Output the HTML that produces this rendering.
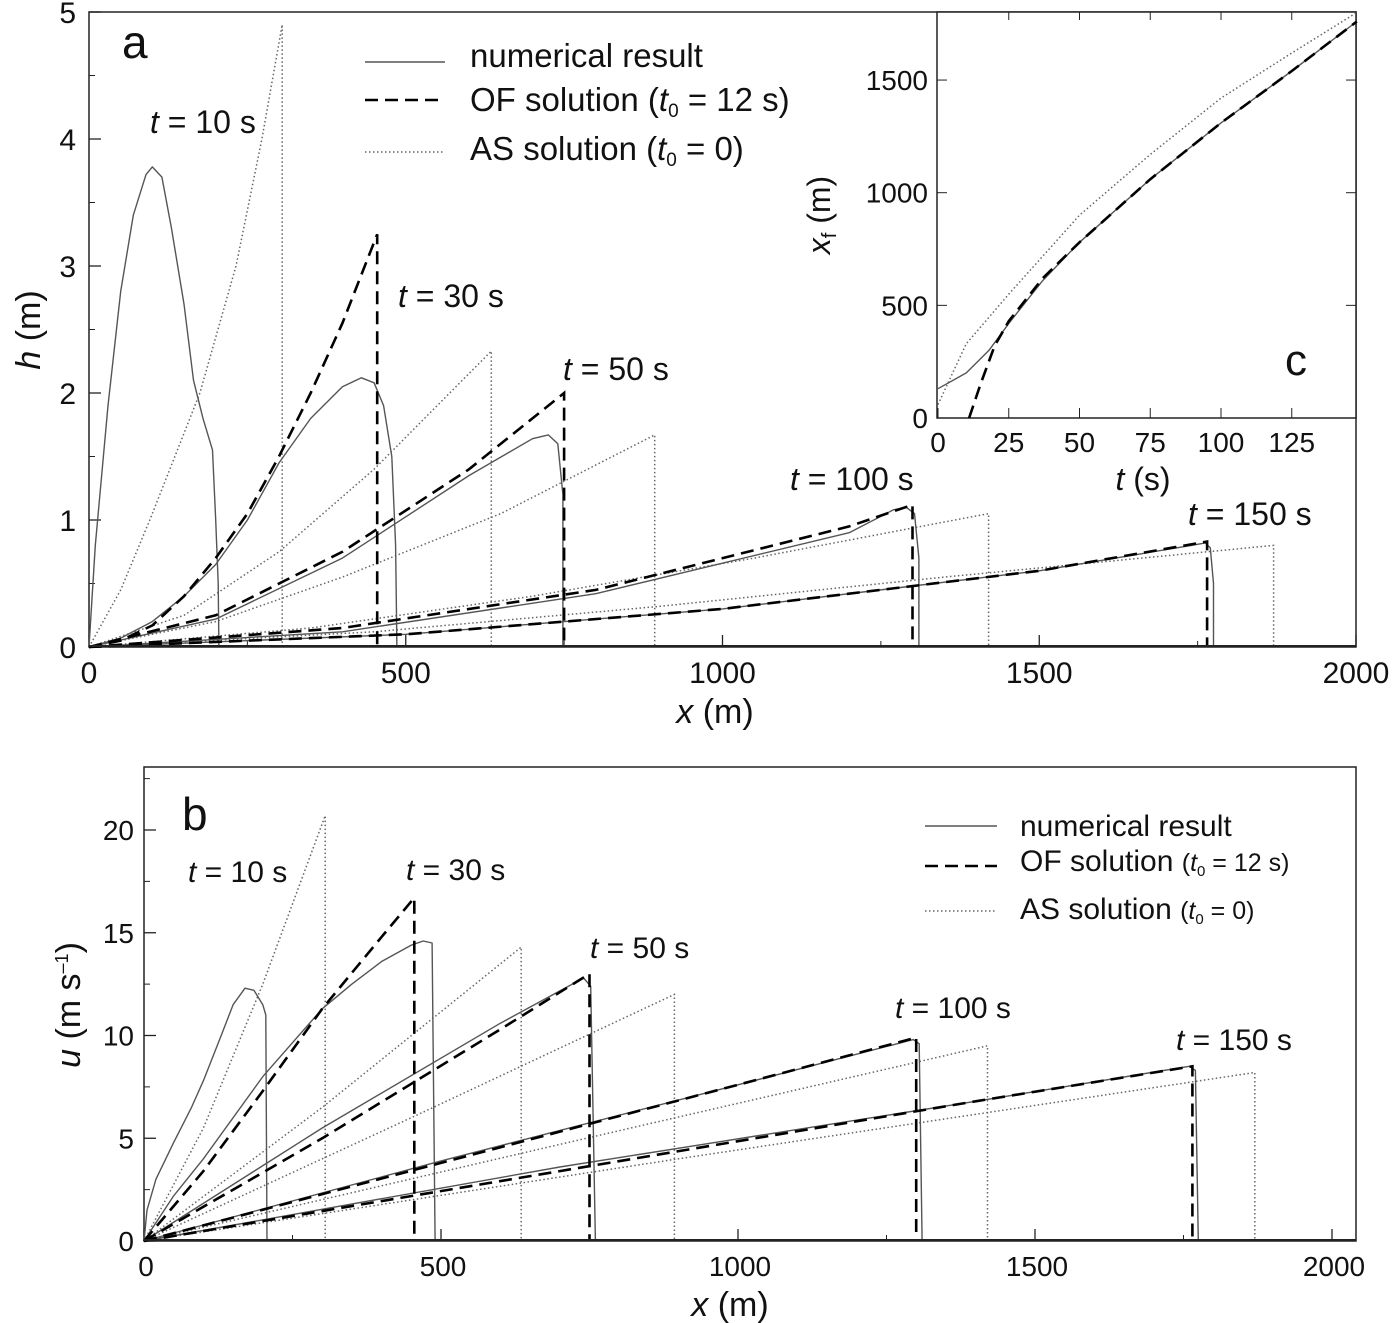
<!DOCTYPE html>
<html><head><meta charset="utf-8">
<style>
html,body{margin:0;padding:0;background:#fff;}
svg{display:block;font-family:"Liberation Sans",Arial,sans-serif;}
</style></head>
<body>
<svg id="fig" width="1400" height="1323" viewBox="0 0 1400 1323"></svg>
<script>
// ---------- DATA ----------
// Panel a: h (m) vs x (m)
const aNumX = [[0,10,30,50,70,90,100,115,130,150,165,180,195,200,204,205],[0,50,100,150,200,250,300,350,400,430,450,465,478,484,486],[0,200,400,600,700,725,740,748,748],[0,400,800,1200,1270,1290,1303,1310,1310],[0,500,1000,1500,1740,1762,1770,1775,1775]];
const aNumY = [[0,0.8,1.9,2.8,3.4,3.72,3.78,3.7,3.3,2.7,2.1,1.8,1.55,1.0,0.5,0],[0,0.07,0.2,0.4,0.65,1.0,1.45,1.8,2.05,2.12,2.08,1.9,1.5,0.8,0],[0,0.22,0.7,1.35,1.64,1.67,1.6,1.2,0],[0,0.12,0.42,0.9,1.08,1.1,1.05,0.7,0],[0,0.1,0.3,0.6,0.8,0.82,0.78,0.5,0]];
const aOFX = [[0,50,100,150,200,250,300,350,400,455,455],[0,200,400,600,750,750],[0,400,800,1200,1300,1300],[0,500,1000,1500,1765,1765]];
const aOFY = [[0,0.05,0.17,0.4,0.7,1.05,1.5,2.0,2.55,3.25,0],[0,0.25,0.75,1.4,2.0,0],[0,0.15,0.45,0.95,1.12,0],[0,0.1,0.3,0.6,0.83,0]];
const aASX = [[0,50,96,175,232,273,305,305],[0,150,300,450,635,635],[0,200,400,650,893,893],[0,350,700,1050,1420,1420],[0,450,900,1350,1870,1870]];
const aASY = [[0,0.45,1,2,3,4,4.9,0],[0,0.25,0.75,1.4,2.33,0],[0,0.2,0.55,1.05,1.67,0],[0,0.15,0.4,0.7,1.05,0],[0,0.12,0.32,0.55,0.8,0]];
// Panel b: u (m/s) vs x (m)
const bNumX = [[0,5,20,50,80,100,130,150,170,185,200,205,207],[0,50,100,200,300,350,400,450,470,485,490],[0,300,600,740,752,760,760],[0,500,1000,1295,1305,1310,1310],[0,700,1400,1760,1770,1775,1775]];
const bNumY = [[0,1.5,3,4.8,6.5,7.8,10,11.5,12.3,12.2,11.5,11,0],[0,2.2,4,8,11.3,12.5,13.6,14.4,14.6,14.5,0],[0,5.5,10.6,12.8,12.4,0,0],[0,3.9,7.6,9.8,9.6,0,0],[0,3.6,6.8,8.5,8.3,0,0]];
const bOFX = [[0,100,200,300,400,455,455],[0,300,600,750,750],[0,500,1000,1300,1300],[0,700,1400,1765,1765]];
const bOFY = [[0,3.4,7.3,11.3,14.8,16.7,0],[0,5.0,10.3,13,0],[0,3.8,7.6,9.9,0],[0,3.4,6.8,8.5,0]];
const bASX = [[0,100,200,305,305],[0,300,635,635],[0,450,893,893],[0,700,1420,1420],[0,900,1870,1870]];
const bASY = [[0,5.5,12.5,20.7,0],[0,6.5,14.3,0],[0,6,12,0],[0,4.7,9.5,0],[0,4,8.2,0]];
// Panel c: x_f (m) vs t (s)
const cT = [0,10,18,25,37,50,75,100,125,148];
const cNum = [130,200,300,420,610,780,1060,1310,1540,1760];
const cOFT = [11,15,20,25,37,50,75,100,125,148];
const cOF = [0,150,320,430,620,780,1060,1310,1540,1760];
const cAST = [0,10,25,50,75,100,125,148];
const cAS = [60,330,550,900,1170,1420,1620,1800];
const aXTicks = [0,500,1000,1500,2000];
const aYTicks = [0,1,2,3,4,5];
const bXTicks = [0,500,1000,1500,2000];
const bYTicks = [0,5,10,15,20];
const cXTicks = [0,25,50,75,100,125];
const cYTicks = [0,500,1000,1500];

// ---------- AXES ----------
const NS="http://www.w3.org/2000/svg";
const svg=document.getElementById('fig');
function el(tag,attrs,parent){const e=document.createElementNS(NS,tag);for(const k in attrs)e.setAttribute(k,attrs[k]);(parent||svg).appendChild(e);return e;}
const ax = x=>89+x*0.6335, ay = y=>647-y*127;
const bx = x=>144+x*0.594, by = y=>1241-y*20.55;
const cx = t=>938+t*2.83, cy = v=>418-v*0.2253;

const styles={
 num:{stroke:'#555','stroke-width':1.4,fill:'none','stroke-linejoin':'round'},
 of:{stroke:'#000','stroke-width':2.6,fill:'none','stroke-dasharray':'13,7'},
 as:{stroke:'#666','stroke-width':1.5,fill:'none','stroke-dasharray':'1.5,2.5'}
};
function poly(xs,ys,fx,fy,st,name){
  const p=el('polyline',Object.assign({points:xs.map((x,i)=>fx(x).toFixed(1)+','+fy(ys[i]).toFixed(1)).join(' ')},st));
  
  
}
function txt(x,y,s,size,name,anchor,extra){
  const t=el('text',Object.assign({x:x,y:y,'font-size':size,'text-anchor':anchor||'start',fill:'#111'},extra||{}));
  t.innerHTML=s;
  
  
  return t;
}

// ---------- PANEL A ----------
let f=el('rect',{x:89,y:12,width:1267,height:635,fill:'none',stroke:'#222','stroke-width':1.5});

aXTicks.forEach(v=>{el('line',{x1:ax(v),x2:ax(v),y1:647,y2:635,stroke:'#222','stroke-width':1.3});el('line',{x1:ax(v+250),x2:ax(v+250),y1:647,y2:641,stroke:'#222'});
 txt(ax(v),683,String(v),30,'x-tick-label-a','middle');});
aYTicks.forEach(v=>{el('line',{x1:89,x2:101,y1:ay(v),y2:ay(v),stroke:'#222','stroke-width':1.3});el('line',{x1:89,x2:95,y1:ay(v+0.5),y2:ay(v+0.5),stroke:'#222'});
 txt(76,ay(v)+11,String(v),30,'y-tick-label-a','end');});
txt(715,723,'<tspan font-style="italic">x</tspan> (m)',34,'x-axis-title-a','middle');
txt(40,330,'<tspan font-style="italic">h</tspan> (m)',34,'y-axis-title-a','middle',{transform:'rotate(-90 40 330)'});
aASX.forEach((xs,i)=>poly(xs,aASY[i],ax,ay,styles.as,'as-curve-a'));
aNumX.forEach((xs,i)=>poly(xs,aNumY[i],ax,ay,styles.num,'numerical-curve-a'));
aOFX.forEach((xs,i)=>poly(xs,aOFY[i],ax,ay,styles.of,'of-curve-a'));
el('line',{x1:89,x2:1356,y1:646,y2:646,stroke:'#222','stroke-width':2});
txt(122,58,'a',46,'panel-a-label');
const it='<tspan font-style="italic">t</tspan>';
txt(150,133,it+' = 10 s',32,'label-t10-a');
txt(398,307,it+' = 30 s',32,'label-t30-a');
txt(563,380,it+' = 50 s',32,'label-t50-a');
txt(790,490,it+' = 100 s',32,'label-t100-a');
txt(1188,525,it+' = 150 s',32,'label-t150-a');
// legend a
el('line',Object.assign({x1:365,x2:445,y1:62,y2:62},styles.num));
el('line',Object.assign({x1:365,x2:445,y1:100,y2:100},styles.of));
el('line',Object.assign({x1:365,x2:445,y1:152,y2:152},styles.as));
txt(470,67,'numerical result',33,'legend-numerical-a');
txt(470,111,'OF solution (<tspan font-style="italic">t</tspan><tspan font-size="19" dy="6">0</tspan><tspan dy="-6"> = 12 s)</tspan>',33,'legend-of-a');
txt(470,160,'AS solution (<tspan font-style="italic">t</tspan><tspan font-size="19" dy="6">0</tspan><tspan dy="-6"> = 0)</tspan>',33,'legend-as-a');

// ---------- INSET C ----------
el('rect',{x:937,y:12,width:419,height:406,fill:'#fff',stroke:'#222','stroke-width':1.5});
cXTicks.forEach(v=>{el('line',{x1:cx(v),x2:cx(v),y1:418,y2:408,stroke:'#222'});if(v>0)el('line',{x1:cx(v),x2:cx(v),y1:12,y2:20,stroke:'#222'});txt(cx(v),452,String(v),28,'x-tick-label-c','middle');});
cYTicks.forEach(v=>{el('line',{x1:937,x2:947,y1:cy(v),y2:cy(v),stroke:'#222'});el('line',{x1:1356,x2:1346,y1:cy(v),y2:cy(v),stroke:'#222'});txt(928,cy(v)+10,String(v),28,'y-tick-label-c','end');});
txt(1143,490,it+' (s)',32,'x-axis-title-c','middle');
txt(830,215,'<tspan font-style="italic">x</tspan><tspan font-size="20" dy="6">f</tspan><tspan dy="-6"> (m)</tspan>',32,'y-axis-title-c','middle',{transform:'rotate(-90 830 215)'});
poly(cAST,cAS,cx,cy,styles.as,'as-curve-c');
poly(cT,cNum,cx,cy,styles.num,'numerical-curve-c');
poly(cOFT,cOF,cx,cy,styles.of,'of-curve-c');
txt(1285,375,'c',44,'panel-c-label');

// ---------- PANEL B ----------
f=el('rect',{x:144,y:767,width:1212,height:474,fill:'none',stroke:'#222','stroke-width':1.5});

bXTicks.forEach(v=>{el('line',{x1:bx(v),x2:bx(v),y1:1241,y2:1229,stroke:'#222','stroke-width':1.3});el('line',{x1:bx(v+250),x2:bx(v+250),y1:1241,y2:1235,stroke:'#222'});
 txt(bx(v)+2,1276,String(v),28,'x-tick-label-b','middle');});
bYTicks.forEach(v=>{el('line',{x1:144,x2:156,y1:by(v),y2:by(v),stroke:'#222','stroke-width':1.3});el('line',{x1:144,x2:150,y1:by(v+2.5),y2:by(v+2.5),stroke:'#222'});
 txt(134,by(v)+10,String(v),28,'y-tick-label-b','end');});
txt(730,1316,'<tspan font-style="italic">x</tspan> (m)',34,'x-axis-title-b','middle');
txt(80,1005,'<tspan font-style="italic">u</tspan> (m s<tspan font-size="18" dy="-12">–1</tspan><tspan dy="12">)</tspan>',34,'y-axis-title-b','middle',{transform:'rotate(-90 80 1005)'});
bASX.forEach((xs,i)=>poly(xs,bASY[i],bx,by,styles.as,'as-curve-b'));
bNumX.forEach((xs,i)=>poly(xs,bNumY[i],bx,by,styles.num,'numerical-curve-b'));
bOFX.forEach((xs,i)=>poly(xs,bOFY[i],bx,by,styles.of,'of-curve-b'));
el('line',{x1:144,x2:1356,y1:1240,y2:1240,stroke:'#222','stroke-width':2});
txt(182,830,'b',46,'panel-b-label');
txt(188,882,it+' = 10 s',30,'label-t10-b');
txt(406,880,it+' = 30 s',30,'label-t30-b');
txt(590,958,it+' = 50 s',30,'label-t50-b');
txt(895,1018,it+' = 100 s',30,'label-t100-b');
txt(1176,1050,it+' = 150 s',30,'label-t150-b');
el('line',Object.assign({x1:925,x2:997,y1:826,y2:826},styles.num));
el('line',Object.assign({x1:925,x2:997,y1:866,y2:866},styles.of));
el('line',Object.assign({x1:925,x2:997,y1:911,y2:911},styles.as));
txt(1020,836,'numerical result',30,'legend-numerical-b');
txt(1020,871,'OF solution <tspan font-size="25">(<tspan font-style="italic">t</tspan><tspan font-size="15" dy="5">0</tspan><tspan dy="-5"> = 12 s)</tspan></tspan>',30,'legend-of-b');
txt(1020,919,'AS solution <tspan font-size="25">(<tspan font-style="italic">t</tspan><tspan font-size="15" dy="5">0</tspan><tspan dy="-5"> = 0)</tspan></tspan>',30,'legend-as-b');
</script>
</body></html>
